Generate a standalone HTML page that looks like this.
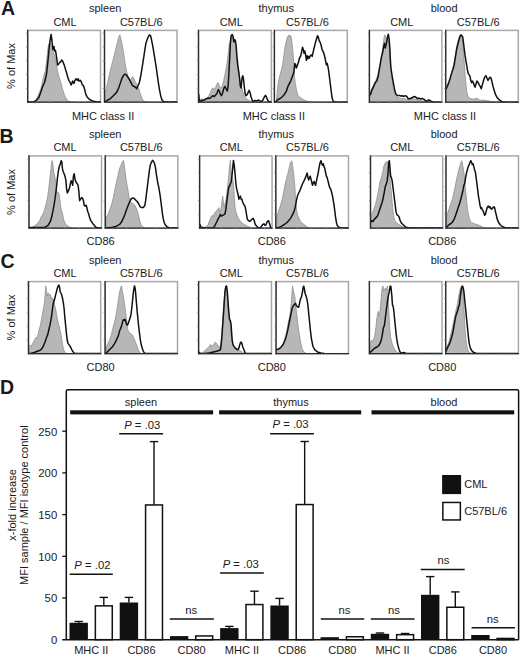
<!DOCTYPE html>
<html><head><meta charset="utf-8"><style>
html,body{margin:0;padding:0;background:#fff;}
svg{display:block;}
text{font-family:"Liberation Sans", sans-serif;fill:#1a1a1a;}
</style></head><body>
<svg width="520" height="655" viewBox="0 0 520 655">
<rect width="520" height="655" fill="#fff"/>
<text x="1.10" y="15.20" font-size="19.5" text-anchor="start" font-weight="bold" font-style="normal" >A</text>
<text x="105.20" y="12.30" font-size="11" text-anchor="middle" font-weight="normal" font-style="normal" >spleen</text>
<text x="65.00" y="25.50" font-size="11" text-anchor="middle" font-weight="normal" font-style="normal" >CML</text>
<text x="141.30" y="25.50" font-size="11" text-anchor="middle" font-weight="normal" font-style="normal" >C57BL/6</text>
<text x="103.10" y="120.00" font-size="11" text-anchor="middle" font-weight="normal" font-style="normal" >MHC class II</text>
<text x="276.20" y="12.30" font-size="11" text-anchor="middle" font-weight="normal" font-style="normal" >thymus</text>
<text x="231.30" y="25.50" font-size="11" text-anchor="middle" font-weight="normal" font-style="normal" >CML</text>
<text x="307.50" y="25.50" font-size="11" text-anchor="middle" font-weight="normal" font-style="normal" >C57BL/6</text>
<text x="273.80" y="120.00" font-size="11" text-anchor="middle" font-weight="normal" font-style="normal" >MHC class II</text>
<text x="444.10" y="12.30" font-size="11" text-anchor="middle" font-weight="normal" font-style="normal" >blood</text>
<text x="401.80" y="25.50" font-size="11" text-anchor="middle" font-weight="normal" font-style="normal" >CML</text>
<text x="478.20" y="25.50" font-size="11" text-anchor="middle" font-weight="normal" font-style="normal" >C57BL/6</text>
<text x="445.00" y="120.00" font-size="11" text-anchor="middle" font-weight="normal" font-style="normal" >MHC class II</text>
<text x="0" y="0" font-size="11" text-anchor="middle" transform="translate(15.3,66.0) rotate(-90)">% of Max</text>
<rect x="27.70" y="30.40" width="72.80" height="71.80" fill="#fff" stroke="#a8a8a8" stroke-width="1.5"/>
<clipPath id="c00"><rect x="27.70" y="28.40" width="72.80" height="73.80"/></clipPath>
<g clip-path="url(#c00)">
<path d="M33.46,102.20 L33.46,102.15 L35.77,100.31 L38.08,95.69 L39.62,91.85 L40.85,88.92 L42.69,80.31 L44.23,74.15 L45.46,70.46 L46.23,64.15 L47.00,57.23 L47.77,49.54 L48.54,44.92 L49.31,43.38 L50.38,43.38 L51.46,45.69 L52.69,51.08 L54.23,54.15 L55.46,58.77 L56.54,64.92 L57.62,71.85 L59.15,77.23 L61.15,83.38 L62.69,89.54 L64.23,94.15 L65.77,98.00 L68.08,101.08 L71.15,102.15 L71.15,102.20 Z" fill="#b7b7b7" stroke="#8f8f8f" stroke-width="0.8"/>
<path d="M27.77,102.00 L33.46,101.85 L34.69,101.54 L36.54,100.00 L38.54,98.00 L40.38,93.38 L42.38,87.23 L44.69,82.00 L46.54,74.00 L47.77,62.62 L48.54,54.92 L49.31,46.46 L50.08,40.31 L50.69,36.46 L51.15,34.46 L51.92,40.31 L52.38,44.92 L53.00,49.54 L53.92,46.46 L54.54,51.08 L55.46,50.31 L56.23,54.92 L57.00,60.31 L57.62,64.92 L58.54,64.15 L59.62,62.62 L60.69,61.85 L61.62,60.00 L62.69,61.08 L63.46,63.38 L64.23,64.92 L65.31,68.77 L66.54,72.62 L67.77,77.23 L68.85,80.31 L69.92,81.85 L71.15,84.92 L71.92,83.38 L72.69,81.08 L73.92,83.38 L75.00,80.31 L76.08,78.77 L77.31,80.31 L78.08,78.77 L79.15,81.08 L80.38,80.31 L81.62,82.62 L82.23,84.92 L83.46,85.69 L84.69,89.54 L85.77,94.15 L87.31,97.23 L89.62,99.54 L92.69,101.08 L95.77,101.85 L100.69,102.00" fill="none" stroke="#111" stroke-width="1.5" stroke-linejoin="round"/>
</g>
<line x1="27.70" y1="29.80" x2="27.70" y2="102.70" stroke="#2a2a2a" stroke-width="1.3"/>
<line x1="27.20" y1="102.20" x2="101.10" y2="102.20" stroke="#2a2a2a" stroke-width="1.3"/>
<line x1="26.10" y1="88.40" x2="27.70" y2="88.40" stroke="#777" stroke-width="0.8"/>
<line x1="26.10" y1="74.60" x2="27.70" y2="74.60" stroke="#777" stroke-width="0.8"/>
<line x1="26.10" y1="60.80" x2="27.70" y2="60.80" stroke="#777" stroke-width="0.8"/>
<line x1="26.10" y1="47.00" x2="27.70" y2="47.00" stroke="#777" stroke-width="0.8"/>
<line x1="26.10" y1="33.20" x2="27.70" y2="33.20" stroke="#777" stroke-width="0.8"/>
<line x1="34.80" y1="102.20" x2="34.80" y2="103.70" stroke="#aaa" stroke-width="0.7"/>
<line x1="49.30" y1="102.20" x2="49.30" y2="103.70" stroke="#aaa" stroke-width="0.7"/>
<line x1="63.80" y1="102.20" x2="63.80" y2="103.70" stroke="#aaa" stroke-width="0.7"/>
<line x1="78.30" y1="102.20" x2="78.30" y2="103.70" stroke="#aaa" stroke-width="0.7"/>
<line x1="92.80" y1="102.20" x2="92.80" y2="103.70" stroke="#aaa" stroke-width="0.7"/>
<rect x="104.50" y="30.40" width="72.50" height="71.80" fill="#fff" stroke="#a8a8a8" stroke-width="1.5"/>
<clipPath id="c01"><rect x="104.50" y="28.40" width="72.50" height="73.80"/></clipPath>
<g clip-path="url(#c01)">
<path d="M105.31,102.20 L105.31,92.62 L107.15,84.92 L109.46,74.15 L111.77,64.92 L114.08,55.69 L115.62,49.54 L117.15,43.38 L118.69,37.23 L119.77,34.92 L121.00,38.77 L122.23,44.92 L123.31,51.08 L124.38,58.77 L125.62,66.46 L126.85,72.62 L128.38,77.23 L129.92,80.31 L131.46,78.77 L132.54,76.46 L133.62,78.00 L134.85,81.08 L136.38,83.38 L137.92,86.46 L139.46,91.08 L141.00,95.69 L142.54,99.54 L144.08,101.54 L146.38,102.15 L146.38,102.20 Z" fill="#b7b7b7" stroke="#8f8f8f" stroke-width="0.8"/>
<path d="M104.85,101.85 L107.15,100.31 L110.23,98.77 L113.31,95.69 L116.38,92.62 L118.69,88.00 L120.23,83.38 L121.77,78.77 L123.31,75.69 L124.85,74.15 L126.38,74.92 L127.92,77.23 L129.46,79.54 L131.00,82.62 L132.54,85.69 L134.08,86.46 L135.62,87.23 L136.69,88.77 L137.92,85.69 L139.15,83.38 L140.23,78.77 L141.31,72.62 L142.54,64.92 L143.77,57.23 L144.85,49.54 L145.92,43.38 L147.15,39.54 L148.38,36.46 L149.46,34.92 L150.54,35.69 L151.46,39.54 L152.54,44.92 L153.62,51.08 L154.85,58.77 L156.08,66.46 L157.15,74.15 L158.23,81.85 L159.46,89.54 L160.69,95.69 L161.77,99.54 L163.31,101.54 L165.62,102.00 L176.69,102.00" fill="none" stroke="#111" stroke-width="1.5" stroke-linejoin="round"/>
</g>
<line x1="104.50" y1="29.80" x2="104.50" y2="102.70" stroke="#2a2a2a" stroke-width="1.3"/>
<line x1="104.00" y1="102.20" x2="177.60" y2="102.20" stroke="#2a2a2a" stroke-width="1.3"/>
<line x1="102.90" y1="88.40" x2="104.50" y2="88.40" stroke="#777" stroke-width="0.8"/>
<line x1="102.90" y1="74.60" x2="104.50" y2="74.60" stroke="#777" stroke-width="0.8"/>
<line x1="102.90" y1="60.80" x2="104.50" y2="60.80" stroke="#777" stroke-width="0.8"/>
<line x1="102.90" y1="47.00" x2="104.50" y2="47.00" stroke="#777" stroke-width="0.8"/>
<line x1="102.90" y1="33.20" x2="104.50" y2="33.20" stroke="#777" stroke-width="0.8"/>
<line x1="111.60" y1="102.20" x2="111.60" y2="103.70" stroke="#aaa" stroke-width="0.7"/>
<line x1="126.10" y1="102.20" x2="126.10" y2="103.70" stroke="#aaa" stroke-width="0.7"/>
<line x1="140.60" y1="102.20" x2="140.60" y2="103.70" stroke="#aaa" stroke-width="0.7"/>
<line x1="155.10" y1="102.20" x2="155.10" y2="103.70" stroke="#aaa" stroke-width="0.7"/>
<line x1="169.60" y1="102.20" x2="169.60" y2="103.70" stroke="#aaa" stroke-width="0.7"/>
<rect x="198.50" y="30.40" width="72.90" height="71.80" fill="#fff" stroke="#a8a8a8" stroke-width="1.5"/>
<clipPath id="c02"><rect x="198.50" y="28.40" width="72.90" height="73.80"/></clipPath>
<g clip-path="url(#c02)">
<path d="M198.85,102.20 L198.85,101.08 L201.15,98.77 L203.46,99.54 L205.77,98.77 L208.08,97.23 L210.38,92.62 L211.92,88.77 L213.46,88.00 L215.00,89.54 L216.54,84.92 L218.08,82.62 L219.31,85.69 L220.38,88.00 L221.92,86.46 L223.46,81.85 L225.00,74.15 L226.54,66.46 L227.62,58.77 L228.54,51.08 L229.15,44.92 L230.08,41.85 L231.15,35.69 L232.23,34.92 L233.15,38.77 L233.77,41.85 L234.69,40.31 L235.77,46.46 L236.54,55.69 L237.31,64.92 L238.08,69.54 L238.85,74.15 L239.92,80.31 L241.15,86.46 L242.69,91.08 L244.23,95.69 L246.54,98.77 L248.85,100.31 L251.15,101.54 L253.46,102.15 L253.46,102.20 Z" fill="#b7b7b7" stroke="#8f8f8f" stroke-width="0.8"/>
<path d="M198.69,94.15 L199.31,100.31 L200.38,101.54 L201.92,100.31 L203.46,100.31 L205.00,99.54 L206.54,98.77 L208.08,98.00 L209.62,98.46 L211.15,97.23 L212.69,95.69 L214.23,96.46 L215.77,94.92 L217.31,92.62 L218.38,89.54 L219.31,91.08 L220.38,94.15 L221.46,95.69 L222.69,92.62 L223.92,88.00 L225.00,86.46 L226.08,88.77 L227.31,91.08 L228.08,86.46 L228.85,74.15 L229.62,58.77 L230.38,43.38 L231.15,35.69 L232.23,34.46 L233.15,36.46 L233.77,41.85 L234.38,39.54 L235.31,40.31 L236.23,46.46 L236.85,55.69 L237.77,64.92 L238.85,72.62 L239.62,78.77 L240.38,86.46 L241.15,88.00 L241.92,78.77 L242.69,75.69 L243.46,78.77 L244.23,86.46 L245.00,92.62 L245.77,95.69 L247.00,94.92 L248.08,92.62 L249.15,90.31 L250.08,92.62 L251.15,97.23 L252.23,100.31 L253.46,101.54 L255.00,100.31 L256.54,101.08 L258.08,100.00 L259.62,100.62 L261.15,101.54 L262.69,100.31 L264.23,97.23 L265.46,95.38 L266.54,97.23 L267.62,100.31 L268.85,101.54 L271.15,101.85" fill="none" stroke="#111" stroke-width="1.5" stroke-linejoin="round"/>
</g>
<line x1="198.50" y1="29.80" x2="198.50" y2="102.70" stroke="#2a2a2a" stroke-width="1.3"/>
<line x1="198.00" y1="102.20" x2="272.00" y2="102.20" stroke="#2a2a2a" stroke-width="1.3"/>
<line x1="196.90" y1="88.40" x2="198.50" y2="88.40" stroke="#777" stroke-width="0.8"/>
<line x1="196.90" y1="74.60" x2="198.50" y2="74.60" stroke="#777" stroke-width="0.8"/>
<line x1="196.90" y1="60.80" x2="198.50" y2="60.80" stroke="#777" stroke-width="0.8"/>
<line x1="196.90" y1="47.00" x2="198.50" y2="47.00" stroke="#777" stroke-width="0.8"/>
<line x1="196.90" y1="33.20" x2="198.50" y2="33.20" stroke="#777" stroke-width="0.8"/>
<line x1="205.60" y1="102.20" x2="205.60" y2="103.70" stroke="#aaa" stroke-width="0.7"/>
<line x1="220.10" y1="102.20" x2="220.10" y2="103.70" stroke="#aaa" stroke-width="0.7"/>
<line x1="234.60" y1="102.20" x2="234.60" y2="103.70" stroke="#aaa" stroke-width="0.7"/>
<line x1="249.10" y1="102.20" x2="249.10" y2="103.70" stroke="#aaa" stroke-width="0.7"/>
<line x1="263.60" y1="102.20" x2="263.60" y2="103.70" stroke="#aaa" stroke-width="0.7"/>
<rect x="274.40" y="30.40" width="72.90" height="71.80" fill="#fff" stroke="#a8a8a8" stroke-width="1.5"/>
<clipPath id="c03"><rect x="274.40" y="28.40" width="72.90" height="73.80"/></clipPath>
<g clip-path="url(#c03)">
<path d="M276.38,102.20 L276.38,101.85 L277.15,92.62 L277.92,84.92 L279.00,78.77 L280.23,74.15 L281.46,69.54 L282.54,64.92 L283.62,57.23 L284.85,48.00 L286.08,41.85 L287.15,38.00 L288.23,35.69 L289.15,34.92 L289.77,37.23 L290.69,35.69 L291.46,38.77 L292.23,44.92 L293.00,52.62 L293.62,61.85 L294.08,71.08 L294.54,77.23 L295.31,83.38 L296.38,89.54 L297.46,94.15 L298.69,96.46 L301.00,98.00 L303.31,99.54 L306.38,101.08 L309.46,101.85 L312.54,102.15 L312.54,102.20 Z" fill="#b7b7b7" stroke="#8f8f8f" stroke-width="0.8"/>
<path d="M274.85,102.15 L276.38,101.08 L277.92,99.54 L280.23,98.46 L282.54,96.46 L284.54,94.15 L286.38,91.08 L287.92,86.46 L289.46,83.38 L291.00,80.31 L292.54,75.69 L293.77,72.62 L294.38,68.00 L294.85,63.38 L295.62,64.92 L296.38,68.00 L297.15,65.69 L298.38,62.62 L299.46,58.00 L300.54,56.46 L301.46,52.62 L302.54,47.23 L303.31,49.54 L304.08,53.38 L304.85,51.08 L305.62,54.92 L306.38,60.31 L307.15,55.69 L307.92,58.77 L308.69,56.46 L309.46,58.00 L310.23,55.69 L311.31,54.92 L312.23,56.46 L312.85,53.38 L313.77,49.54 L314.85,44.92 L315.62,41.85 L316.54,38.77 L317.46,35.69 L318.38,37.23 L319.00,40.31 L319.92,41.85 L321.00,44.92 L322.08,49.54 L323.31,51.85 L324.08,54.15 L324.85,57.23 L325.62,61.08 L326.38,64.92 L327.15,63.38 L327.92,66.46 L328.69,71.08 L329.46,77.23 L330.23,83.38 L331.00,89.54 L331.77,95.69 L332.54,99.54 L333.31,101.54 L335.62,102.15 L347.15,102.15" fill="none" stroke="#111" stroke-width="1.5" stroke-linejoin="round"/>
</g>
<line x1="274.40" y1="29.80" x2="274.40" y2="102.70" stroke="#2a2a2a" stroke-width="1.3"/>
<line x1="273.90" y1="102.20" x2="347.90" y2="102.20" stroke="#2a2a2a" stroke-width="1.3"/>
<line x1="272.80" y1="88.40" x2="274.40" y2="88.40" stroke="#777" stroke-width="0.8"/>
<line x1="272.80" y1="74.60" x2="274.40" y2="74.60" stroke="#777" stroke-width="0.8"/>
<line x1="272.80" y1="60.80" x2="274.40" y2="60.80" stroke="#777" stroke-width="0.8"/>
<line x1="272.80" y1="47.00" x2="274.40" y2="47.00" stroke="#777" stroke-width="0.8"/>
<line x1="272.80" y1="33.20" x2="274.40" y2="33.20" stroke="#777" stroke-width="0.8"/>
<line x1="281.50" y1="102.20" x2="281.50" y2="103.70" stroke="#aaa" stroke-width="0.7"/>
<line x1="296.00" y1="102.20" x2="296.00" y2="103.70" stroke="#aaa" stroke-width="0.7"/>
<line x1="310.50" y1="102.20" x2="310.50" y2="103.70" stroke="#aaa" stroke-width="0.7"/>
<line x1="325.00" y1="102.20" x2="325.00" y2="103.70" stroke="#aaa" stroke-width="0.7"/>
<line x1="339.50" y1="102.20" x2="339.50" y2="103.70" stroke="#aaa" stroke-width="0.7"/>
<rect x="369.40" y="30.40" width="72.50" height="71.80" fill="#fff" stroke="#a8a8a8" stroke-width="1.5"/>
<clipPath id="c04"><rect x="369.40" y="28.40" width="72.50" height="73.80"/></clipPath>
<g clip-path="url(#c04)">
<path d="M369.85,102.20 L369.85,92.62 L371.38,89.54 L372.92,86.46 L374.46,83.38 L376.00,80.31 L377.54,75.69 L379.08,69.54 L380.62,61.85 L382.15,52.62 L383.23,44.92 L384.15,37.23 L384.77,34.92 L385.69,36.46 L386.77,38.77 L387.54,37.23 L388.31,40.31 L389.08,46.46 L389.85,55.69 L390.62,66.46 L391.38,74.15 L392.15,80.31 L392.92,86.46 L393.69,91.08 L395.23,95.69 L396.77,97.23 L399.08,98.00 L401.38,98.46 L404.46,98.77 L407.54,99.54 L410.62,99.08 L413.69,98.77 L416.77,99.54 L419.85,100.31 L422.92,101.08 L427.54,101.54 L432.15,101.85 L436.77,102.15 L436.77,102.20 Z" fill="#b7b7b7" stroke="#8f8f8f" stroke-width="0.8"/>
<path d="M369.38,95.69 L370.62,94.15 L372.15,89.54 L373.69,86.46 L375.23,82.62 L376.77,81.08 L378.31,75.69 L379.54,68.00 L380.62,61.85 L381.69,55.69 L382.62,52.62 L383.69,46.46 L384.46,43.38 L385.23,48.00 L386.00,44.92 L386.77,41.85 L387.54,37.23 L388.31,34.15 L389.08,38.77 L389.85,48.00 L390.31,58.77 L390.92,68.00 L391.85,74.15 L392.92,80.31 L394.00,86.46 L394.92,91.08 L396.00,94.15 L397.54,95.69 L399.08,95.38 L400.62,96.00 L402.15,95.69 L403.69,96.46 L405.23,95.69 L406.77,96.46 L408.31,98.77 L409.85,98.77 L411.38,98.00 L412.92,97.23 L414.46,96.46 L416.00,97.23 L417.54,98.77 L419.08,98.00 L420.62,99.08 L422.15,98.46 L423.69,99.08 L425.23,100.31 L426.77,101.08 L428.31,100.00 L429.85,100.31 L431.38,101.54 L433.69,102.15 L441.69,102.15" fill="none" stroke="#111" stroke-width="1.5" stroke-linejoin="round"/>
</g>
<line x1="369.40" y1="29.80" x2="369.40" y2="102.70" stroke="#2a2a2a" stroke-width="1.3"/>
<line x1="368.90" y1="102.20" x2="442.50" y2="102.20" stroke="#2a2a2a" stroke-width="1.3"/>
<line x1="367.80" y1="88.40" x2="369.40" y2="88.40" stroke="#777" stroke-width="0.8"/>
<line x1="367.80" y1="74.60" x2="369.40" y2="74.60" stroke="#777" stroke-width="0.8"/>
<line x1="367.80" y1="60.80" x2="369.40" y2="60.80" stroke="#777" stroke-width="0.8"/>
<line x1="367.80" y1="47.00" x2="369.40" y2="47.00" stroke="#777" stroke-width="0.8"/>
<line x1="367.80" y1="33.20" x2="369.40" y2="33.20" stroke="#777" stroke-width="0.8"/>
<line x1="376.50" y1="102.20" x2="376.50" y2="103.70" stroke="#aaa" stroke-width="0.7"/>
<line x1="391.00" y1="102.20" x2="391.00" y2="103.70" stroke="#aaa" stroke-width="0.7"/>
<line x1="405.50" y1="102.20" x2="405.50" y2="103.70" stroke="#aaa" stroke-width="0.7"/>
<line x1="420.00" y1="102.20" x2="420.00" y2="103.70" stroke="#aaa" stroke-width="0.7"/>
<line x1="434.50" y1="102.20" x2="434.50" y2="103.70" stroke="#aaa" stroke-width="0.7"/>
<rect x="445.70" y="30.40" width="72.60" height="71.80" fill="#fff" stroke="#a8a8a8" stroke-width="1.5"/>
<clipPath id="c05"><rect x="445.70" y="28.40" width="72.60" height="73.80"/></clipPath>
<g clip-path="url(#c05)">
<path d="M446.15,102.20 L446.15,89.54 L447.69,86.46 L449.23,81.85 L450.77,75.69 L452.31,71.08 L453.85,64.92 L455.38,55.69 L456.62,46.46 L457.69,41.85 L458.77,38.77 L459.69,35.69 L460.77,34.92 L461.85,37.23 L462.77,43.38 L463.54,52.62 L464.31,63.38 L464.92,72.62 L465.54,80.31 L466.15,86.46 L466.92,92.62 L468.00,96.46 L470.00,98.46 L472.31,99.08 L474.62,98.77 L476.92,98.00 L478.46,99.54 L480.77,100.31 L483.08,100.00 L486.15,100.62 L489.23,101.08 L492.31,101.54 L495.38,101.85 L500.00,102.15 L500.00,102.20 Z" fill="#b7b7b7" stroke="#8f8f8f" stroke-width="0.8"/>
<path d="M445.85,89.54 L446.92,87.23 L448.46,83.38 L450.00,78.77 L451.54,73.38 L453.08,68.77 L454.15,64.92 L455.38,57.23 L456.62,49.54 L457.69,44.92 L458.46,41.85 L459.23,38.77 L460.00,36.46 L460.77,34.92 L461.85,35.69 L462.77,37.23 L463.38,41.85 L464.31,49.54 L465.08,55.69 L465.85,60.31 L466.62,64.92 L467.38,69.54 L468.15,73.38 L469.23,74.92 L470.00,76.46 L470.77,80.31 L471.54,82.62 L472.62,81.08 L473.85,84.15 L475.08,87.23 L476.15,83.38 L476.92,81.08 L478.15,82.62 L479.23,84.92 L480.31,86.46 L481.23,88.77 L482.31,84.92 L483.38,81.08 L484.62,77.23 L485.85,75.69 L486.92,78.00 L488.00,80.31 L488.92,78.77 L490.00,77.23 L491.08,78.00 L492.00,81.85 L493.08,86.46 L494.15,90.31 L495.38,94.15 L496.92,97.23 L498.46,99.08 L500.00,100.31 L501.54,101.54 L503.85,102.15 L518.15,102.15" fill="none" stroke="#111" stroke-width="1.5" stroke-linejoin="round"/>
</g>
<line x1="445.70" y1="29.80" x2="445.70" y2="102.70" stroke="#2a2a2a" stroke-width="1.3"/>
<line x1="445.20" y1="102.20" x2="518.90" y2="102.20" stroke="#2a2a2a" stroke-width="1.3"/>
<line x1="444.10" y1="88.40" x2="445.70" y2="88.40" stroke="#777" stroke-width="0.8"/>
<line x1="444.10" y1="74.60" x2="445.70" y2="74.60" stroke="#777" stroke-width="0.8"/>
<line x1="444.10" y1="60.80" x2="445.70" y2="60.80" stroke="#777" stroke-width="0.8"/>
<line x1="444.10" y1="47.00" x2="445.70" y2="47.00" stroke="#777" stroke-width="0.8"/>
<line x1="444.10" y1="33.20" x2="445.70" y2="33.20" stroke="#777" stroke-width="0.8"/>
<line x1="452.80" y1="102.20" x2="452.80" y2="103.70" stroke="#aaa" stroke-width="0.7"/>
<line x1="467.30" y1="102.20" x2="467.30" y2="103.70" stroke="#aaa" stroke-width="0.7"/>
<line x1="481.80" y1="102.20" x2="481.80" y2="103.70" stroke="#aaa" stroke-width="0.7"/>
<line x1="496.30" y1="102.20" x2="496.30" y2="103.70" stroke="#aaa" stroke-width="0.7"/>
<line x1="510.80" y1="102.20" x2="510.80" y2="103.70" stroke="#aaa" stroke-width="0.7"/>
<text x="-0.40" y="142.60" font-size="19.5" text-anchor="start" font-weight="bold" font-style="normal" >B</text>
<text x="105.20" y="137.60" font-size="11" text-anchor="middle" font-weight="normal" font-style="normal" >spleen</text>
<text x="65.00" y="151.10" font-size="11" text-anchor="middle" font-weight="normal" font-style="normal" >CML</text>
<text x="141.30" y="151.10" font-size="11" text-anchor="middle" font-weight="normal" font-style="normal" >C57BL/6</text>
<text x="100.60" y="245.30" font-size="11" text-anchor="middle" font-weight="normal" font-style="normal" >CD86</text>
<text x="276.20" y="137.60" font-size="11" text-anchor="middle" font-weight="normal" font-style="normal" >thymus</text>
<text x="231.30" y="151.10" font-size="11" text-anchor="middle" font-weight="normal" font-style="normal" >CML</text>
<text x="307.50" y="151.10" font-size="11" text-anchor="middle" font-weight="normal" font-style="normal" >C57BL/6</text>
<text x="271.80" y="245.30" font-size="11" text-anchor="middle" font-weight="normal" font-style="normal" >CD86</text>
<text x="444.10" y="137.60" font-size="11" text-anchor="middle" font-weight="normal" font-style="normal" >blood</text>
<text x="401.80" y="151.10" font-size="11" text-anchor="middle" font-weight="normal" font-style="normal" >CML</text>
<text x="478.20" y="151.10" font-size="11" text-anchor="middle" font-weight="normal" font-style="normal" >C57BL/6</text>
<text x="442.20" y="245.30" font-size="11" text-anchor="middle" font-weight="normal" font-style="normal" >CD86</text>
<text x="0" y="0" font-size="11" text-anchor="middle" transform="translate(15.3,192.0) rotate(-90)">% of Max</text>
<rect x="29.00" y="155.90" width="72.50" height="72.20" fill="#fff" stroke="#a8a8a8" stroke-width="1.5"/>
<clipPath id="c10"><rect x="29.00" y="153.90" width="72.50" height="74.20"/></clipPath>
<g clip-path="url(#c10)">
<path d="M31.15,228.10 L31.15,227.62 L34.23,226.08 L37.31,223.77 L39.62,220.69 L41.15,216.85 L42.69,214.54 L44.23,210.69 L45.77,205.31 L47.31,199.15 L48.38,191.46 L49.31,183.77 L50.08,176.08 L50.85,169.92 L51.46,163.77 L52.08,160.69 L52.69,162.23 L53.31,168.38 L53.92,173.00 L54.69,176.08 L55.46,180.69 L56.08,185.31 L56.54,189.92 L57.31,193.00 L58.08,192.23 L58.85,193.00 L59.62,197.62 L60.38,203.77 L61.15,209.92 L61.92,211.46 L62.69,214.54 L63.46,219.15 L65.00,223.00 L66.54,225.31 L68.85,226.85 L71.15,227.62 L71.15,228.10 Z" fill="#b7b7b7" stroke="#8f8f8f" stroke-width="0.8"/>
<path d="M28.85,227.62 L34.23,227.62 L40.38,227.62 L45.00,227.15 L48.08,225.31 L50.38,221.46 L51.92,216.08 L53.15,209.92 L54.23,203.77 L55.00,199.15 L55.77,193.00 L56.54,186.85 L57.31,179.15 L58.08,173.00 L58.85,168.38 L59.62,165.31 L60.38,163.77 L61.15,160.69 L61.92,162.23 L62.38,168.38 L63.15,171.46 L63.77,173.00 L64.69,175.31 L65.31,177.62 L65.92,180.69 L66.54,188.38 L67.31,193.00 L68.08,191.46 L68.85,189.92 L69.62,187.62 L70.38,183.77 L71.15,180.69 L71.92,182.23 L72.69,185.31 L73.46,176.08 L74.23,173.77 L75.00,179.15 L75.77,181.46 L76.54,183.00 L77.31,183.77 L78.08,185.31 L78.85,191.46 L79.62,200.69 L80.69,199.15 L81.62,197.62 L82.69,198.38 L83.46,200.69 L84.23,205.31 L85.31,206.08 L86.23,205.31 L86.85,207.62 L87.77,211.46 L88.85,214.54 L89.62,217.62 L90.85,220.69 L92.69,223.46 L94.23,225.31 L95.77,227.15 L98.08,227.92 L101.46,227.92" fill="none" stroke="#111" stroke-width="1.5" stroke-linejoin="round"/>
</g>
<line x1="29.00" y1="155.30" x2="29.00" y2="228.60" stroke="#2a2a2a" stroke-width="1.3"/>
<line x1="28.50" y1="228.10" x2="102.10" y2="228.10" stroke="#2a2a2a" stroke-width="1.3"/>
<line x1="27.40" y1="214.30" x2="29.00" y2="214.30" stroke="#777" stroke-width="0.8"/>
<line x1="27.40" y1="200.50" x2="29.00" y2="200.50" stroke="#777" stroke-width="0.8"/>
<line x1="27.40" y1="186.70" x2="29.00" y2="186.70" stroke="#777" stroke-width="0.8"/>
<line x1="27.40" y1="172.90" x2="29.00" y2="172.90" stroke="#777" stroke-width="0.8"/>
<line x1="27.40" y1="159.10" x2="29.00" y2="159.10" stroke="#777" stroke-width="0.8"/>
<line x1="36.10" y1="228.10" x2="36.10" y2="229.60" stroke="#aaa" stroke-width="0.7"/>
<line x1="50.60" y1="228.10" x2="50.60" y2="229.60" stroke="#aaa" stroke-width="0.7"/>
<line x1="65.10" y1="228.10" x2="65.10" y2="229.60" stroke="#aaa" stroke-width="0.7"/>
<line x1="79.60" y1="228.10" x2="79.60" y2="229.60" stroke="#aaa" stroke-width="0.7"/>
<line x1="94.10" y1="228.10" x2="94.10" y2="229.60" stroke="#aaa" stroke-width="0.7"/>
<rect x="105.30" y="155.90" width="72.55" height="72.20" fill="#fff" stroke="#a8a8a8" stroke-width="1.5"/>
<clipPath id="c11"><rect x="105.30" y="153.90" width="72.55" height="74.20"/></clipPath>
<g clip-path="url(#c11)">
<path d="M106.08,228.10 L106.08,219.15 L107.15,216.08 L108.69,213.00 L110.23,208.38 L111.77,203.77 L113.31,197.62 L114.85,189.92 L116.38,182.23 L117.92,176.08 L119.15,169.92 L120.23,166.85 L121.31,164.54 L122.54,161.46 L123.31,160.38 L124.08,163.77 L124.85,169.92 L125.62,176.08 L126.38,180.69 L127.15,185.31 L127.92,189.92 L128.69,194.54 L129.46,199.15 L130.54,202.23 L131.77,203.00 L133.31,203.77 L134.85,205.31 L136.38,208.38 L137.62,211.46 L138.69,216.08 L139.77,220.69 L141.00,224.54 L142.54,226.85 L144.85,227.92 L144.85,228.10 Z" fill="#b7b7b7" stroke="#8f8f8f" stroke-width="0.8"/>
<path d="M105.62,227.92 L110.23,227.62 L114.85,226.85 L117.92,225.31 L120.23,223.77 L121.77,221.46 L123.31,218.38 L124.85,214.54 L126.38,209.92 L127.92,206.08 L129.46,202.23 L131.00,199.15 L132.54,197.92 L134.08,198.38 L135.62,199.92 L137.15,201.46 L138.69,203.77 L140.23,206.85 L141.77,207.62 L143.31,207.62 L144.85,205.31 L145.62,200.69 L146.38,194.54 L147.15,188.38 L147.92,182.23 L148.69,176.08 L149.46,169.92 L150.23,165.31 L151.46,162.23 L152.54,160.38 L153.62,161.46 L154.85,164.54 L155.62,168.38 L156.38,174.54 L157.15,179.15 L157.92,183.77 L158.69,186.85 L159.46,191.46 L160.23,196.08 L161.00,202.23 L161.77,208.38 L162.54,214.54 L163.31,219.15 L164.38,223.00 L165.62,225.31 L167.15,226.85 L169.46,227.92 L177.92,227.92" fill="none" stroke="#111" stroke-width="1.5" stroke-linejoin="round"/>
</g>
<line x1="105.30" y1="155.30" x2="105.30" y2="228.60" stroke="#2a2a2a" stroke-width="1.3"/>
<line x1="104.80" y1="228.10" x2="178.45" y2="228.10" stroke="#2a2a2a" stroke-width="1.3"/>
<line x1="103.70" y1="214.30" x2="105.30" y2="214.30" stroke="#777" stroke-width="0.8"/>
<line x1="103.70" y1="200.50" x2="105.30" y2="200.50" stroke="#777" stroke-width="0.8"/>
<line x1="103.70" y1="186.70" x2="105.30" y2="186.70" stroke="#777" stroke-width="0.8"/>
<line x1="103.70" y1="172.90" x2="105.30" y2="172.90" stroke="#777" stroke-width="0.8"/>
<line x1="103.70" y1="159.10" x2="105.30" y2="159.10" stroke="#777" stroke-width="0.8"/>
<line x1="112.40" y1="228.10" x2="112.40" y2="229.60" stroke="#aaa" stroke-width="0.7"/>
<line x1="126.90" y1="228.10" x2="126.90" y2="229.60" stroke="#aaa" stroke-width="0.7"/>
<line x1="141.40" y1="228.10" x2="141.40" y2="229.60" stroke="#aaa" stroke-width="0.7"/>
<line x1="155.90" y1="228.10" x2="155.90" y2="229.60" stroke="#aaa" stroke-width="0.7"/>
<line x1="170.40" y1="228.10" x2="170.40" y2="229.60" stroke="#aaa" stroke-width="0.7"/>
<rect x="199.60" y="155.90" width="72.46" height="72.20" fill="#fff" stroke="#a8a8a8" stroke-width="1.5"/>
<clipPath id="c12"><rect x="199.60" y="153.90" width="72.46" height="74.20"/></clipPath>
<g clip-path="url(#c12)">
<path d="M204.23,228.10 L204.23,227.62 L206.54,226.54 L208.08,224.54 L209.62,220.69 L211.15,216.85 L212.23,215.31 L213.15,216.85 L214.23,213.77 L215.77,211.46 L217.31,209.92 L218.85,207.62 L219.92,212.23 L220.85,209.92 L221.92,202.23 L222.69,196.08 L223.46,203.77 L224.23,206.85 L225.00,203.77 L225.77,200.69 L226.54,196.08 L227.31,189.92 L228.08,182.23 L228.85,174.54 L229.62,166.85 L230.38,160.38 L231.15,171.46 L231.92,176.08 L232.69,179.15 L233.46,183.77 L234.23,196.08 L235.00,206.85 L235.77,211.46 L237.31,216.08 L238.85,219.15 L241.15,222.23 L244.23,224.54 L247.31,226.08 L250.38,227.62 L250.38,228.10 Z" fill="#b7b7b7" stroke="#8f8f8f" stroke-width="0.8"/>
<path d="M199.31,225.31 L199.92,224.54 L200.85,226.85 L202.69,227.62 L205.77,227.92 L210.38,227.92 L213.46,227.92 L215.00,225.31 L216.54,222.23 L218.08,219.15 L219.31,216.85 L220.38,214.54 L221.46,216.08 L222.69,215.31 L223.92,214.54 L225.00,213.77 L225.77,209.92 L226.54,203.77 L227.31,197.62 L228.08,191.46 L228.85,186.85 L229.62,186.08 L230.38,183.77 L231.15,182.23 L231.92,176.08 L232.69,168.38 L233.46,160.38 L234.23,165.31 L235.00,173.00 L235.77,182.23 L236.54,188.38 L237.31,191.46 L238.08,194.54 L238.85,199.15 L239.62,197.62 L240.38,196.08 L241.15,199.15 L241.92,199.15 L242.69,202.23 L243.46,203.77 L244.23,205.31 L245.00,206.08 L245.77,209.92 L246.54,214.54 L247.31,219.15 L248.54,220.69 L249.62,221.46 L250.69,220.69 L251.92,219.15 L253.15,218.38 L254.23,220.69 L255.31,224.54 L256.54,226.08 L258.08,227.62 L259.62,227.92 L261.15,226.85 L262.69,224.54 L263.92,223.77 L265.00,225.31 L266.08,224.54 L267.31,221.46 L268.54,220.69 L269.62,223.77 L270.38,226.85 L271.46,227.92" fill="none" stroke="#111" stroke-width="1.5" stroke-linejoin="round"/>
</g>
<line x1="199.60" y1="155.30" x2="199.60" y2="228.60" stroke="#2a2a2a" stroke-width="1.3"/>
<line x1="199.10" y1="228.10" x2="272.66" y2="228.10" stroke="#2a2a2a" stroke-width="1.3"/>
<line x1="198.00" y1="214.30" x2="199.60" y2="214.30" stroke="#777" stroke-width="0.8"/>
<line x1="198.00" y1="200.50" x2="199.60" y2="200.50" stroke="#777" stroke-width="0.8"/>
<line x1="198.00" y1="186.70" x2="199.60" y2="186.70" stroke="#777" stroke-width="0.8"/>
<line x1="198.00" y1="172.90" x2="199.60" y2="172.90" stroke="#777" stroke-width="0.8"/>
<line x1="198.00" y1="159.10" x2="199.60" y2="159.10" stroke="#777" stroke-width="0.8"/>
<line x1="206.70" y1="228.10" x2="206.70" y2="229.60" stroke="#aaa" stroke-width="0.7"/>
<line x1="221.20" y1="228.10" x2="221.20" y2="229.60" stroke="#aaa" stroke-width="0.7"/>
<line x1="235.70" y1="228.10" x2="235.70" y2="229.60" stroke="#aaa" stroke-width="0.7"/>
<line x1="250.20" y1="228.10" x2="250.20" y2="229.60" stroke="#aaa" stroke-width="0.7"/>
<line x1="264.70" y1="228.10" x2="264.70" y2="229.60" stroke="#aaa" stroke-width="0.7"/>
<rect x="275.80" y="155.90" width="72.65" height="72.20" fill="#fff" stroke="#a8a8a8" stroke-width="1.5"/>
<clipPath id="c13"><rect x="275.80" y="153.90" width="72.65" height="74.20"/></clipPath>
<g clip-path="url(#c13)">
<path d="M276.85,228.10 L276.85,217.62 L277.92,213.00 L279.46,208.38 L281.00,203.77 L282.54,197.62 L284.08,189.92 L285.31,183.00 L286.38,179.15 L287.62,174.54 L288.69,169.92 L289.77,165.31 L290.69,162.23 L291.77,160.69 L292.54,165.31 L293.31,171.46 L294.08,177.62 L294.85,186.85 L295.31,196.08 L295.92,203.77 L296.54,209.92 L297.46,214.54 L298.69,217.62 L300.23,220.69 L301.77,223.00 L304.08,224.54 L306.38,226.54 L309.46,227.92 L309.46,228.10 Z" fill="#b7b7b7" stroke="#8f8f8f" stroke-width="0.8"/>
<path d="M276.08,227.92 L278.69,227.62 L281.77,226.08 L284.08,224.54 L286.38,223.00 L288.69,220.69 L291.00,217.62 L292.54,214.54 L294.08,211.46 L295.31,206.85 L296.38,200.69 L297.46,196.08 L298.69,193.00 L299.92,190.69 L301.00,187.62 L302.54,183.77 L304.08,180.69 L305.15,178.38 L306.08,176.08 L307.15,173.00 L307.92,177.62 L308.69,179.92 L309.46,177.62 L310.23,176.08 L311.00,179.15 L311.77,182.23 L312.54,185.31 L313.31,183.00 L314.08,181.46 L314.85,183.77 L315.62,185.31 L316.38,181.46 L317.15,177.62 L317.92,174.54 L318.69,169.92 L319.46,165.31 L320.23,162.23 L321.00,160.69 L321.77,163.77 L322.54,165.31 L323.31,163.77 L324.08,166.85 L324.85,168.38 L325.62,173.00 L326.38,176.08 L327.15,177.62 L327.92,180.69 L328.69,183.77 L329.46,186.85 L330.23,188.38 L331.00,189.92 L331.77,193.00 L332.54,196.08 L333.31,200.69 L334.08,205.31 L334.85,211.46 L335.62,217.62 L336.38,222.23 L337.15,225.31 L338.69,227.15 L341.77,227.92 L347.92,227.92" fill="none" stroke="#111" stroke-width="1.5" stroke-linejoin="round"/>
</g>
<line x1="275.80" y1="155.30" x2="275.80" y2="228.60" stroke="#2a2a2a" stroke-width="1.3"/>
<line x1="275.30" y1="228.10" x2="349.05" y2="228.10" stroke="#2a2a2a" stroke-width="1.3"/>
<line x1="274.20" y1="214.30" x2="275.80" y2="214.30" stroke="#777" stroke-width="0.8"/>
<line x1="274.20" y1="200.50" x2="275.80" y2="200.50" stroke="#777" stroke-width="0.8"/>
<line x1="274.20" y1="186.70" x2="275.80" y2="186.70" stroke="#777" stroke-width="0.8"/>
<line x1="274.20" y1="172.90" x2="275.80" y2="172.90" stroke="#777" stroke-width="0.8"/>
<line x1="274.20" y1="159.10" x2="275.80" y2="159.10" stroke="#777" stroke-width="0.8"/>
<line x1="282.90" y1="228.10" x2="282.90" y2="229.60" stroke="#aaa" stroke-width="0.7"/>
<line x1="297.40" y1="228.10" x2="297.40" y2="229.60" stroke="#aaa" stroke-width="0.7"/>
<line x1="311.90" y1="228.10" x2="311.90" y2="229.60" stroke="#aaa" stroke-width="0.7"/>
<line x1="326.40" y1="228.10" x2="326.40" y2="229.60" stroke="#aaa" stroke-width="0.7"/>
<line x1="340.90" y1="228.10" x2="340.90" y2="229.60" stroke="#aaa" stroke-width="0.7"/>
<rect x="370.50" y="155.90" width="72.20" height="72.20" fill="#fff" stroke="#a8a8a8" stroke-width="1.5"/>
<clipPath id="c14"><rect x="370.50" y="153.90" width="72.20" height="74.20"/></clipPath>
<g clip-path="url(#c14)">
<path d="M371.08,228.10 L371.08,214.54 L372.15,213.00 L373.69,209.92 L375.23,205.31 L376.77,199.15 L378.31,191.46 L379.85,182.23 L381.38,177.62 L382.62,173.00 L383.69,166.85 L384.77,163.77 L385.69,162.23 L386.77,161.46 L387.54,163.77 L388.31,160.69 L389.08,166.85 L389.85,176.08 L390.62,183.77 L391.38,193.00 L392.15,202.23 L392.92,209.92 L393.69,216.08 L394.92,220.69 L396.77,223.00 L399.08,224.54 L401.38,226.08 L404.46,227.62 L407.54,227.92 L407.54,228.10 Z" fill="#b7b7b7" stroke="#8f8f8f" stroke-width="0.8"/>
<path d="M370.62,222.23 L371.85,220.69 L372.92,221.46 L374.46,219.15 L376.00,217.62 L377.54,216.08 L379.08,211.46 L380.62,206.85 L382.15,202.23 L383.23,197.62 L384.15,193.00 L385.23,186.85 L386.31,183.77 L387.23,180.69 L388.00,173.00 L388.77,162.23 L389.38,160.69 L390.00,168.38 L390.62,176.08 L391.38,177.62 L392.15,180.69 L392.92,186.85 L393.69,193.00 L394.46,199.15 L395.23,205.31 L396.00,211.46 L396.77,214.54 L398.00,215.31 L399.08,216.85 L400.15,220.69 L401.38,223.00 L402.92,224.54 L404.46,226.08 L406.00,227.15 L409.08,227.92 L442.46,227.92" fill="none" stroke="#111" stroke-width="1.5" stroke-linejoin="round"/>
</g>
<line x1="370.50" y1="155.30" x2="370.50" y2="228.60" stroke="#2a2a2a" stroke-width="1.3"/>
<line x1="370.00" y1="228.10" x2="443.30" y2="228.10" stroke="#2a2a2a" stroke-width="1.3"/>
<line x1="368.90" y1="214.30" x2="370.50" y2="214.30" stroke="#777" stroke-width="0.8"/>
<line x1="368.90" y1="200.50" x2="370.50" y2="200.50" stroke="#777" stroke-width="0.8"/>
<line x1="368.90" y1="186.70" x2="370.50" y2="186.70" stroke="#777" stroke-width="0.8"/>
<line x1="368.90" y1="172.90" x2="370.50" y2="172.90" stroke="#777" stroke-width="0.8"/>
<line x1="368.90" y1="159.10" x2="370.50" y2="159.10" stroke="#777" stroke-width="0.8"/>
<line x1="377.60" y1="228.10" x2="377.60" y2="229.60" stroke="#aaa" stroke-width="0.7"/>
<line x1="392.10" y1="228.10" x2="392.10" y2="229.60" stroke="#aaa" stroke-width="0.7"/>
<line x1="406.60" y1="228.10" x2="406.60" y2="229.60" stroke="#aaa" stroke-width="0.7"/>
<line x1="421.10" y1="228.10" x2="421.10" y2="229.60" stroke="#aaa" stroke-width="0.7"/>
<line x1="435.60" y1="228.10" x2="435.60" y2="229.60" stroke="#aaa" stroke-width="0.7"/>
<rect x="446.00" y="155.90" width="72.50" height="72.20" fill="#fff" stroke="#a8a8a8" stroke-width="1.5"/>
<clipPath id="c15"><rect x="446.00" y="153.90" width="72.50" height="74.20"/></clipPath>
<g clip-path="url(#c15)">
<path d="M446.62,228.10 L446.62,216.08 L447.69,213.00 L449.23,208.38 L450.77,203.77 L452.31,199.15 L453.85,193.00 L455.38,185.31 L456.62,179.15 L457.69,174.54 L458.77,169.92 L460.00,165.31 L461.08,162.23 L461.85,160.69 L462.77,165.31 L463.54,169.92 L464.31,176.08 L465.08,185.31 L465.85,193.00 L466.62,200.69 L467.38,208.38 L468.46,214.54 L469.54,219.15 L470.77,221.46 L472.31,223.00 L474.62,223.77 L476.92,224.54 L479.23,225.31 L481.54,226.54 L484.62,227.92 L484.62,228.10 Z" fill="#b7b7b7" stroke="#8f8f8f" stroke-width="0.8"/>
<path d="M446.15,227.92 L447.69,226.08 L449.23,224.54 L450.77,223.77 L452.31,222.23 L453.85,219.92 L455.38,216.08 L456.92,211.46 L458.46,206.85 L460.00,202.23 L461.23,197.62 L462.31,193.00 L463.08,189.92 L463.85,185.31 L464.62,183.77 L465.38,179.15 L466.15,174.54 L466.92,171.46 L467.69,168.38 L468.46,166.08 L469.23,164.54 L470.00,162.23 L470.77,160.69 L471.54,162.23 L472.31,164.54 L473.08,163.77 L473.85,166.85 L474.62,169.92 L475.38,172.23 L476.15,177.62 L476.92,183.77 L477.69,189.92 L478.46,196.08 L479.23,200.69 L480.00,205.31 L480.77,208.38 L481.54,207.62 L482.31,209.92 L483.08,210.69 L483.85,213.00 L484.62,215.31 L485.38,214.54 L486.15,211.46 L486.92,208.38 L487.69,206.85 L488.46,206.08 L489.23,207.62 L490.00,206.85 L490.77,208.38 L491.54,209.15 L492.31,208.38 L493.08,207.62 L493.85,206.85 L494.62,207.62 L495.38,211.46 L496.15,214.54 L497.23,219.15 L498.46,222.23 L500.00,224.54 L501.54,226.08 L503.85,227.15 L506.15,227.92 L518.15,227.92" fill="none" stroke="#111" stroke-width="1.5" stroke-linejoin="round"/>
</g>
<line x1="446.00" y1="155.30" x2="446.00" y2="228.60" stroke="#2a2a2a" stroke-width="1.3"/>
<line x1="445.50" y1="228.10" x2="519.10" y2="228.10" stroke="#2a2a2a" stroke-width="1.3"/>
<line x1="444.40" y1="214.30" x2="446.00" y2="214.30" stroke="#777" stroke-width="0.8"/>
<line x1="444.40" y1="200.50" x2="446.00" y2="200.50" stroke="#777" stroke-width="0.8"/>
<line x1="444.40" y1="186.70" x2="446.00" y2="186.70" stroke="#777" stroke-width="0.8"/>
<line x1="444.40" y1="172.90" x2="446.00" y2="172.90" stroke="#777" stroke-width="0.8"/>
<line x1="444.40" y1="159.10" x2="446.00" y2="159.10" stroke="#777" stroke-width="0.8"/>
<line x1="453.10" y1="228.10" x2="453.10" y2="229.60" stroke="#aaa" stroke-width="0.7"/>
<line x1="467.60" y1="228.10" x2="467.60" y2="229.60" stroke="#aaa" stroke-width="0.7"/>
<line x1="482.10" y1="228.10" x2="482.10" y2="229.60" stroke="#aaa" stroke-width="0.7"/>
<line x1="496.60" y1="228.10" x2="496.60" y2="229.60" stroke="#aaa" stroke-width="0.7"/>
<line x1="511.10" y1="228.10" x2="511.10" y2="229.60" stroke="#aaa" stroke-width="0.7"/>
<text x="0.60" y="268.20" font-size="19.5" text-anchor="start" font-weight="bold" font-style="normal" >C</text>
<text x="105.20" y="264.00" font-size="11" text-anchor="middle" font-weight="normal" font-style="normal" >spleen</text>
<text x="65.00" y="276.80" font-size="11" text-anchor="middle" font-weight="normal" font-style="normal" >CML</text>
<text x="141.30" y="276.80" font-size="11" text-anchor="middle" font-weight="normal" font-style="normal" >C57BL/6</text>
<text x="100.60" y="370.90" font-size="11" text-anchor="middle" font-weight="normal" font-style="normal" >CD80</text>
<text x="276.20" y="264.00" font-size="11" text-anchor="middle" font-weight="normal" font-style="normal" >thymus</text>
<text x="231.30" y="276.80" font-size="11" text-anchor="middle" font-weight="normal" font-style="normal" >CML</text>
<text x="307.50" y="276.80" font-size="11" text-anchor="middle" font-weight="normal" font-style="normal" >C57BL/6</text>
<text x="271.80" y="370.90" font-size="11" text-anchor="middle" font-weight="normal" font-style="normal" >CD80</text>
<text x="444.10" y="264.00" font-size="11" text-anchor="middle" font-weight="normal" font-style="normal" >blood</text>
<text x="401.80" y="276.80" font-size="11" text-anchor="middle" font-weight="normal" font-style="normal" >CML</text>
<text x="478.20" y="276.80" font-size="11" text-anchor="middle" font-weight="normal" font-style="normal" >C57BL/6</text>
<text x="442.20" y="370.90" font-size="11" text-anchor="middle" font-weight="normal" font-style="normal" >CD80</text>
<text x="0" y="0" font-size="11" text-anchor="middle" transform="translate(15.3,317.5) rotate(-90)">% of Max</text>
<rect x="28.50" y="281.60" width="72.20" height="72.10" fill="#fff" stroke="#a8a8a8" stroke-width="1.5"/>
<clipPath id="c20"><rect x="28.50" y="279.60" width="72.20" height="74.10"/></clipPath>
<g clip-path="url(#c20)">
<path d="M28.85,353.70 L28.85,346.69 L29.92,345.15 L31.15,346.69 L32.38,343.62 L33.46,342.08 L34.54,339.77 L35.77,337.46 L37.00,338.23 L38.08,334.38 L39.15,329.77 L40.38,325.15 L41.62,319.00 L42.69,312.85 L43.77,306.69 L44.69,300.54 L45.31,292.85 L45.77,285.92 L46.54,291.31 L47.31,295.92 L48.08,292.85 L48.85,294.38 L49.62,295.92 L50.38,294.38 L51.15,299.00 L51.92,297.46 L52.69,300.54 L53.46,299.00 L54.23,302.08 L55.00,306.69 L55.77,309.77 L56.54,314.38 L57.31,319.00 L58.08,322.08 L58.85,325.15 L59.62,328.23 L60.38,331.31 L61.15,335.92 L61.92,340.54 L62.69,345.15 L63.46,349.00 L64.69,352.08 L66.54,353.46 L66.54,353.70 Z" fill="#b7b7b7" stroke="#8f8f8f" stroke-width="0.8"/>
<path d="M28.38,353.46 L31.15,353.15 L34.23,352.54 L37.31,351.31 L39.62,350.54 L41.62,349.00 L43.46,345.92 L45.00,342.08 L46.54,337.46 L47.77,334.38 L48.85,329.77 L49.92,325.15 L50.85,320.54 L51.62,315.92 L52.38,309.77 L53.00,305.15 L53.62,302.08 L54.23,300.54 L55.00,297.46 L55.77,294.38 L56.54,291.31 L57.31,288.23 L58.08,285.92 L58.85,285.15 L59.62,287.46 L60.08,291.31 L60.69,292.85 L61.31,293.62 L61.92,295.92 L62.69,299.00 L63.46,303.62 L64.23,309.77 L64.69,315.92 L65.31,322.08 L65.92,328.23 L66.54,334.38 L67.31,340.54 L68.08,343.62 L69.31,345.15 L70.38,346.69 L71.46,349.00 L72.69,351.31 L73.92,352.85 L75.00,353.46 L100.69,353.46" fill="none" stroke="#111" stroke-width="1.5" stroke-linejoin="round"/>
</g>
<line x1="28.50" y1="281.00" x2="28.50" y2="354.20" stroke="#2a2a2a" stroke-width="1.3"/>
<line x1="28.00" y1="353.70" x2="101.30" y2="353.70" stroke="#2a2a2a" stroke-width="1.3"/>
<line x1="26.90" y1="339.90" x2="28.50" y2="339.90" stroke="#777" stroke-width="0.8"/>
<line x1="26.90" y1="326.10" x2="28.50" y2="326.10" stroke="#777" stroke-width="0.8"/>
<line x1="26.90" y1="312.30" x2="28.50" y2="312.30" stroke="#777" stroke-width="0.8"/>
<line x1="26.90" y1="298.50" x2="28.50" y2="298.50" stroke="#777" stroke-width="0.8"/>
<line x1="26.90" y1="284.70" x2="28.50" y2="284.70" stroke="#777" stroke-width="0.8"/>
<line x1="35.60" y1="353.70" x2="35.60" y2="355.20" stroke="#aaa" stroke-width="0.7"/>
<line x1="50.10" y1="353.70" x2="50.10" y2="355.20" stroke="#aaa" stroke-width="0.7"/>
<line x1="64.60" y1="353.70" x2="64.60" y2="355.20" stroke="#aaa" stroke-width="0.7"/>
<line x1="79.10" y1="353.70" x2="79.10" y2="355.20" stroke="#aaa" stroke-width="0.7"/>
<line x1="93.60" y1="353.70" x2="93.60" y2="355.20" stroke="#aaa" stroke-width="0.7"/>
<rect x="105.10" y="281.60" width="72.40" height="72.10" fill="#fff" stroke="#a8a8a8" stroke-width="1.5"/>
<clipPath id="c21"><rect x="105.10" y="279.60" width="72.40" height="74.10"/></clipPath>
<g clip-path="url(#c21)">
<path d="M106.38,353.70 L106.38,346.69 L107.92,343.62 L109.46,340.54 L111.00,335.92 L112.54,329.77 L114.08,323.62 L115.62,317.46 L116.69,311.31 L117.62,305.15 L118.69,297.46 L119.77,291.31 L120.69,287.46 L121.46,285.92 L122.23,289.77 L123.00,294.38 L123.77,299.00 L124.54,303.62 L125.31,309.77 L126.08,315.92 L126.85,322.08 L127.46,328.23 L128.38,331.31 L129.46,332.85 L131.00,333.62 L132.54,335.15 L133.62,337.46 L134.85,340.54 L136.08,343.62 L137.15,346.69 L138.23,349.46 L139.46,352.08 L141.00,353.46 L141.00,353.70 Z" fill="#b7b7b7" stroke="#8f8f8f" stroke-width="0.8"/>
<path d="M105.92,353.46 L107.92,351.31 L110.23,349.00 L112.54,346.69 L114.54,343.62 L116.08,340.54 L117.62,337.46 L118.69,334.38 L119.46,331.31 L120.69,328.23 L121.77,325.15 L122.54,322.08 L123.31,319.77 L124.08,320.54 L124.85,319.31 L125.62,320.54 L126.38,323.62 L127.15,325.15 L127.92,324.38 L128.69,322.08 L129.46,319.77 L130.23,317.46 L131.00,314.38 L131.77,308.23 L132.54,300.54 L133.31,292.85 L134.08,287.46 L134.54,285.92 L135.15,288.23 L135.62,292.85 L136.38,302.08 L137.15,311.31 L137.92,319.00 L138.69,326.69 L139.46,332.85 L140.23,339.00 L141.00,343.62 L142.23,348.23 L143.31,351.31 L144.38,352.85 L145.62,353.46 L177.15,353.46" fill="none" stroke="#111" stroke-width="1.5" stroke-linejoin="round"/>
</g>
<line x1="105.10" y1="281.00" x2="105.10" y2="354.20" stroke="#2a2a2a" stroke-width="1.3"/>
<line x1="104.60" y1="353.70" x2="178.10" y2="353.70" stroke="#2a2a2a" stroke-width="1.3"/>
<line x1="103.50" y1="339.90" x2="105.10" y2="339.90" stroke="#777" stroke-width="0.8"/>
<line x1="103.50" y1="326.10" x2="105.10" y2="326.10" stroke="#777" stroke-width="0.8"/>
<line x1="103.50" y1="312.30" x2="105.10" y2="312.30" stroke="#777" stroke-width="0.8"/>
<line x1="103.50" y1="298.50" x2="105.10" y2="298.50" stroke="#777" stroke-width="0.8"/>
<line x1="103.50" y1="284.70" x2="105.10" y2="284.70" stroke="#777" stroke-width="0.8"/>
<line x1="112.20" y1="353.70" x2="112.20" y2="355.20" stroke="#aaa" stroke-width="0.7"/>
<line x1="126.70" y1="353.70" x2="126.70" y2="355.20" stroke="#aaa" stroke-width="0.7"/>
<line x1="141.20" y1="353.70" x2="141.20" y2="355.20" stroke="#aaa" stroke-width="0.7"/>
<line x1="155.70" y1="353.70" x2="155.70" y2="355.20" stroke="#aaa" stroke-width="0.7"/>
<line x1="170.20" y1="353.70" x2="170.20" y2="355.20" stroke="#aaa" stroke-width="0.7"/>
<rect x="198.60" y="281.60" width="72.86" height="72.10" fill="#fff" stroke="#a8a8a8" stroke-width="1.5"/>
<clipPath id="c22"><rect x="198.60" y="279.60" width="72.86" height="74.10"/></clipPath>
<g clip-path="url(#c22)">
<path d="M201.92,353.70 L201.92,353.46 L203.46,352.08 L205.00,350.54 L206.54,349.00 L208.08,347.46 L209.62,345.92 L210.69,344.38 L211.92,346.69 L213.15,345.15 L214.23,343.62 L215.31,342.08 L216.23,342.85 L217.31,344.38 L218.38,345.92 L219.62,346.69 L220.85,343.62 L221.92,332.85 L222.69,322.08 L223.46,309.77 L224.23,299.00 L225.00,291.31 L225.77,286.69 L226.54,288.23 L227.31,297.46 L228.08,309.77 L228.85,319.00 L229.62,322.08 L230.38,326.69 L231.15,334.38 L231.92,340.54 L232.69,343.62 L233.46,345.15 L234.23,346.69 L235.31,348.23 L236.54,349.00 L238.08,350.08 L239.62,350.54 L241.15,351.31 L242.69,352.54 L244.23,353.46 L244.23,353.70 Z" fill="#b7b7b7" stroke="#8f8f8f" stroke-width="0.8"/>
<path d="M198.85,352.08 L199.62,352.85 L201.15,353.46 L204.23,353.46 L207.31,353.15 L210.38,352.85 L213.46,352.08 L216.54,351.31 L218.85,350.54 L220.38,349.77 L221.15,345.15 L221.92,335.92 L222.69,325.15 L223.46,314.38 L224.23,302.08 L225.00,291.31 L225.77,286.69 L226.54,285.92 L227.31,291.31 L228.08,302.08 L228.85,312.85 L229.62,319.77 L230.38,320.54 L231.15,325.15 L231.62,332.85 L232.23,340.54 L233.15,345.15 L234.23,346.69 L235.31,348.23 L236.54,349.00 L237.77,349.77 L238.85,348.23 L239.62,345.15 L240.38,342.85 L241.15,342.08 L241.92,343.62 L242.69,346.69 L243.92,349.77 L245.00,352.54 L245.77,353.46 L271.15,353.46" fill="none" stroke="#111" stroke-width="1.5" stroke-linejoin="round"/>
</g>
<line x1="198.60" y1="281.00" x2="198.60" y2="354.20" stroke="#2a2a2a" stroke-width="1.3"/>
<line x1="198.10" y1="353.70" x2="272.06" y2="353.70" stroke="#2a2a2a" stroke-width="1.3"/>
<line x1="197.00" y1="339.90" x2="198.60" y2="339.90" stroke="#777" stroke-width="0.8"/>
<line x1="197.00" y1="326.10" x2="198.60" y2="326.10" stroke="#777" stroke-width="0.8"/>
<line x1="197.00" y1="312.30" x2="198.60" y2="312.30" stroke="#777" stroke-width="0.8"/>
<line x1="197.00" y1="298.50" x2="198.60" y2="298.50" stroke="#777" stroke-width="0.8"/>
<line x1="197.00" y1="284.70" x2="198.60" y2="284.70" stroke="#777" stroke-width="0.8"/>
<line x1="205.70" y1="353.70" x2="205.70" y2="355.20" stroke="#aaa" stroke-width="0.7"/>
<line x1="220.20" y1="353.70" x2="220.20" y2="355.20" stroke="#aaa" stroke-width="0.7"/>
<line x1="234.70" y1="353.70" x2="234.70" y2="355.20" stroke="#aaa" stroke-width="0.7"/>
<line x1="249.20" y1="353.70" x2="249.20" y2="355.20" stroke="#aaa" stroke-width="0.7"/>
<line x1="263.70" y1="353.70" x2="263.70" y2="355.20" stroke="#aaa" stroke-width="0.7"/>
<rect x="276.07" y="281.60" width="72.38" height="72.10" fill="#fff" stroke="#a8a8a8" stroke-width="1.5"/>
<clipPath id="c23"><rect x="276.07" y="279.60" width="72.38" height="74.10"/></clipPath>
<g clip-path="url(#c23)">
<path d="M276.52,353.70 L276.52,350.22 L279.72,348.51 L283.15,343.93 L285.44,337.06 L287.16,329.05 L288.30,322.19 L289.45,317.61 L290.59,309.60 L291.39,301.59 L291.96,292.44 L292.54,286.15 L293.22,290.15 L294.02,293.59 L294.82,297.02 L295.51,303.88 L296.31,310.75 L297.11,317.61 L298.03,325.62 L299.17,333.63 L300.54,341.64 L302.03,348.51 L303.75,351.94 L306.04,353.31 L306.04,353.70 Z" fill="#b7b7b7" stroke="#8f8f8f" stroke-width="0.8"/>
<path d="M276.06,349.65 L278.58,349.08 L280.86,347.36 L283.15,344.50 L284.87,340.50 L286.36,335.92 L287.73,330.20 L288.87,324.48 L290.02,318.76 L291.16,313.04 L292.08,308.46 L292.88,306.74 L293.68,305.03 L294.59,304.46 L295.51,303.31 L296.31,305.60 L297.46,306.74 L298.60,307.32 L299.40,303.88 L300.32,299.31 L301.46,297.02 L302.38,292.44 L303.18,287.29 L303.75,286.15 L304.43,289.01 L305.12,293.59 L306.04,295.87 L306.95,299.31 L307.75,303.88 L308.55,311.89 L309.47,321.05 L310.38,330.20 L311.53,339.35 L312.90,346.22 L314.62,349.65 L317.48,351.94 L320.91,353.08 L324.00,353.31" fill="none" stroke="#111" stroke-width="1.5" stroke-linejoin="round"/>
</g>
<line x1="276.07" y1="281.00" x2="276.07" y2="354.20" stroke="#2a2a2a" stroke-width="1.3"/>
<line x1="275.57" y1="353.70" x2="349.05" y2="353.70" stroke="#2a2a2a" stroke-width="1.3"/>
<line x1="274.47" y1="339.90" x2="276.07" y2="339.90" stroke="#777" stroke-width="0.8"/>
<line x1="274.47" y1="326.10" x2="276.07" y2="326.10" stroke="#777" stroke-width="0.8"/>
<line x1="274.47" y1="312.30" x2="276.07" y2="312.30" stroke="#777" stroke-width="0.8"/>
<line x1="274.47" y1="298.50" x2="276.07" y2="298.50" stroke="#777" stroke-width="0.8"/>
<line x1="274.47" y1="284.70" x2="276.07" y2="284.70" stroke="#777" stroke-width="0.8"/>
<line x1="283.17" y1="353.70" x2="283.17" y2="355.20" stroke="#aaa" stroke-width="0.7"/>
<line x1="297.67" y1="353.70" x2="297.67" y2="355.20" stroke="#aaa" stroke-width="0.7"/>
<line x1="312.17" y1="353.70" x2="312.17" y2="355.20" stroke="#aaa" stroke-width="0.7"/>
<line x1="326.67" y1="353.70" x2="326.67" y2="355.20" stroke="#aaa" stroke-width="0.7"/>
<line x1="341.17" y1="353.70" x2="341.17" y2="355.20" stroke="#aaa" stroke-width="0.7"/>
<rect x="369.40" y="281.60" width="72.60" height="72.10" fill="#fff" stroke="#a8a8a8" stroke-width="1.5"/>
<clipPath id="c24"><rect x="369.40" y="279.60" width="72.60" height="74.10"/></clipPath>
<g clip-path="url(#c24)">
<path d="M370.31,353.70 L370.31,342.08 L371.38,340.54 L372.46,341.31 L373.69,339.00 L374.92,334.38 L376.00,326.69 L376.77,319.00 L377.54,314.38 L378.31,311.31 L379.08,315.92 L379.85,312.85 L380.62,305.15 L381.38,295.92 L382.15,288.23 L382.92,285.92 L383.69,291.31 L384.46,289.77 L385.23,288.23 L386.00,290.54 L386.77,288.23 L387.54,285.92 L388.31,295.92 L388.77,309.77 L389.38,322.08 L390.00,331.31 L390.62,337.46 L391.38,340.54 L392.15,343.62 L393.38,346.69 L394.92,349.77 L396.77,352.08 L399.08,353.15 L401.38,353.46 L401.38,353.70 Z" fill="#b7b7b7" stroke="#8f8f8f" stroke-width="0.8"/>
<path d="M369.85,352.54 L371.38,351.31 L372.92,349.77 L374.46,348.23 L376.00,347.46 L377.54,346.69 L379.08,345.15 L380.62,342.08 L381.85,337.46 L382.62,332.85 L383.23,328.23 L383.85,326.69 L384.46,325.15 L385.23,319.00 L386.00,312.85 L386.77,306.69 L387.54,300.54 L388.31,295.92 L389.08,292.85 L389.85,288.23 L390.31,285.92 L390.92,286.69 L391.38,291.31 L391.85,295.92 L392.46,305.15 L393.08,305.92 L393.69,309.77 L394.46,317.46 L395.23,325.15 L396.00,332.85 L396.77,339.00 L397.54,343.62 L398.31,346.69 L399.08,349.77 L400.15,352.08 L401.38,353.15 L402.92,352.85 L404.46,352.54 L406.00,353.46 L441.69,353.46" fill="none" stroke="#111" stroke-width="1.5" stroke-linejoin="round"/>
</g>
<line x1="369.40" y1="281.00" x2="369.40" y2="354.20" stroke="#2a2a2a" stroke-width="1.3"/>
<line x1="368.90" y1="353.70" x2="442.60" y2="353.70" stroke="#2a2a2a" stroke-width="1.3"/>
<line x1="367.80" y1="339.90" x2="369.40" y2="339.90" stroke="#777" stroke-width="0.8"/>
<line x1="367.80" y1="326.10" x2="369.40" y2="326.10" stroke="#777" stroke-width="0.8"/>
<line x1="367.80" y1="312.30" x2="369.40" y2="312.30" stroke="#777" stroke-width="0.8"/>
<line x1="367.80" y1="298.50" x2="369.40" y2="298.50" stroke="#777" stroke-width="0.8"/>
<line x1="367.80" y1="284.70" x2="369.40" y2="284.70" stroke="#777" stroke-width="0.8"/>
<line x1="376.50" y1="353.70" x2="376.50" y2="355.20" stroke="#aaa" stroke-width="0.7"/>
<line x1="391.00" y1="353.70" x2="391.00" y2="355.20" stroke="#aaa" stroke-width="0.7"/>
<line x1="405.50" y1="353.70" x2="405.50" y2="355.20" stroke="#aaa" stroke-width="0.7"/>
<line x1="420.00" y1="353.70" x2="420.00" y2="355.20" stroke="#aaa" stroke-width="0.7"/>
<line x1="434.50" y1="353.70" x2="434.50" y2="355.20" stroke="#aaa" stroke-width="0.7"/>
<rect x="445.70" y="281.60" width="72.70" height="72.10" fill="#fff" stroke="#a8a8a8" stroke-width="1.5"/>
<clipPath id="c25"><rect x="445.70" y="279.60" width="72.70" height="74.10"/></clipPath>
<g clip-path="url(#c25)">
<path d="M446.46,353.70 L446.46,348.23 L447.69,345.15 L448.92,342.08 L450.00,337.46 L451.08,332.85 L452.31,328.23 L453.54,322.08 L454.62,315.92 L455.69,311.31 L456.62,308.23 L457.38,303.62 L458.15,299.00 L458.92,294.38 L459.69,291.31 L460.46,288.23 L461.23,286.69 L462.00,285.92 L462.77,288.23 L463.38,297.46 L464.00,309.77 L464.62,322.08 L465.23,331.31 L465.85,339.00 L466.46,343.62 L467.38,348.23 L468.46,351.31 L470.00,352.85 L472.31,353.46 L472.31,353.70 Z" fill="#b7b7b7" stroke="#8f8f8f" stroke-width="0.8"/>
<path d="M445.85,351.31 L446.92,349.00 L448.00,346.69 L449.23,344.38 L450.46,341.31 L451.54,337.46 L452.77,332.85 L453.85,326.69 L454.92,320.54 L455.85,315.92 L456.92,312.85 L457.85,309.77 L458.62,306.69 L459.38,305.15 L460.00,299.00 L460.77,292.85 L461.54,288.23 L462.31,285.92 L463.08,287.46 L463.85,291.31 L464.62,299.00 L465.38,306.69 L466.15,314.38 L466.92,322.08 L467.69,329.77 L468.46,337.46 L469.23,343.62 L470.00,346.69 L470.77,349.00 L472.31,351.31 L473.85,352.54 L476.15,353.15 L479.23,353.46 L518.15,353.46" fill="none" stroke="#111" stroke-width="1.5" stroke-linejoin="round"/>
</g>
<line x1="445.70" y1="281.00" x2="445.70" y2="354.20" stroke="#2a2a2a" stroke-width="1.3"/>
<line x1="445.20" y1="353.70" x2="519.00" y2="353.70" stroke="#2a2a2a" stroke-width="1.3"/>
<line x1="444.10" y1="339.90" x2="445.70" y2="339.90" stroke="#777" stroke-width="0.8"/>
<line x1="444.10" y1="326.10" x2="445.70" y2="326.10" stroke="#777" stroke-width="0.8"/>
<line x1="444.10" y1="312.30" x2="445.70" y2="312.30" stroke="#777" stroke-width="0.8"/>
<line x1="444.10" y1="298.50" x2="445.70" y2="298.50" stroke="#777" stroke-width="0.8"/>
<line x1="444.10" y1="284.70" x2="445.70" y2="284.70" stroke="#777" stroke-width="0.8"/>
<line x1="452.80" y1="353.70" x2="452.80" y2="355.20" stroke="#aaa" stroke-width="0.7"/>
<line x1="467.30" y1="353.70" x2="467.30" y2="355.20" stroke="#aaa" stroke-width="0.7"/>
<line x1="481.80" y1="353.70" x2="481.80" y2="355.20" stroke="#aaa" stroke-width="0.7"/>
<line x1="496.30" y1="353.70" x2="496.30" y2="355.20" stroke="#aaa" stroke-width="0.7"/>
<line x1="510.80" y1="353.70" x2="510.80" y2="355.20" stroke="#aaa" stroke-width="0.7"/>
<text x="0.00" y="394.10" font-size="19.5" text-anchor="start" font-weight="bold" font-style="normal" >D</text>
<path d="M66.3,639.7 L66.3,391.3 Q66.3,389.8 67.8,389.8 L517.1,389.8 Q518.6,389.8 518.6,391.3 L518.6,639.7" fill="none" stroke="#111" stroke-width="1.5"/>
<line x1="62.30" y1="639.70" x2="518.60" y2="639.70" stroke="#111" stroke-width="1.5"/>
<line x1="62.30" y1="598.00" x2="66.30" y2="598.00" stroke="#111" stroke-width="1.3"/>
<line x1="62.30" y1="556.30" x2="66.30" y2="556.30" stroke="#111" stroke-width="1.3"/>
<line x1="62.30" y1="514.60" x2="66.30" y2="514.60" stroke="#111" stroke-width="1.3"/>
<line x1="62.30" y1="472.90" x2="66.30" y2="472.90" stroke="#111" stroke-width="1.3"/>
<line x1="62.30" y1="431.20" x2="66.30" y2="431.20" stroke="#111" stroke-width="1.3"/>
<text x="57.20" y="644.00" font-size="11.3" text-anchor="end" font-weight="normal" font-style="normal" >0</text>
<text x="57.20" y="602.30" font-size="11.3" text-anchor="end" font-weight="normal" font-style="normal" >50</text>
<text x="57.20" y="560.60" font-size="11.3" text-anchor="end" font-weight="normal" font-style="normal" >100</text>
<text x="57.20" y="518.90" font-size="11.3" text-anchor="end" font-weight="normal" font-style="normal" >150</text>
<text x="57.20" y="477.20" font-size="11.3" text-anchor="end" font-weight="normal" font-style="normal" >200</text>
<text x="57.20" y="435.50" font-size="11.3" text-anchor="end" font-weight="normal" font-style="normal" >250</text>
<text font-size="11" text-anchor="middle" transform="translate(16.2,505.0) rotate(-90)">x-fold increase</text>
<text font-size="11" text-anchor="middle" transform="translate(28.1,505.2) rotate(-90)">MFI sample / MFI isotype control</text>
<rect x="70.20" y="410.30" width="142.90" height="4.10" fill="#111" stroke="none" stroke-width="0"/>
<text x="141.00" y="405.90" font-size="11" text-anchor="middle" font-weight="normal" font-style="normal" >spleen</text>
<rect x="219.10" y="410.30" width="142.10" height="4.10" fill="#111" stroke="none" stroke-width="0"/>
<text x="291.00" y="405.90" font-size="11" text-anchor="middle" font-weight="normal" font-style="normal" >thymus</text>
<rect x="371.50" y="410.30" width="142.70" height="4.10" fill="#111" stroke="none" stroke-width="0"/>
<text x="444.00" y="405.90" font-size="11" text-anchor="middle" font-weight="normal" font-style="normal" >blood</text>
<line x1="78.70" y1="622.80" x2="78.70" y2="621.50" stroke="#111" stroke-width="1.4"/>
<line x1="74.50" y1="621.50" x2="82.90" y2="621.50" stroke="#111" stroke-width="1.4"/>
<rect x="69.50" y="622.80" width="18.40" height="16.90" fill="#111" stroke="none" stroke-width="0"/>
<line x1="103.81" y1="605.70" x2="103.81" y2="597.40" stroke="#111" stroke-width="1.4"/>
<line x1="99.61" y1="597.40" x2="108.01" y2="597.40" stroke="#111" stroke-width="1.4"/>
<rect x="95.36" y="605.85" width="16.90" height="33.85" fill="#fff" stroke="#111" stroke-width="1.5"/>
<line x1="128.91" y1="602.50" x2="128.91" y2="597.40" stroke="#111" stroke-width="1.4"/>
<line x1="124.71" y1="597.40" x2="133.11" y2="597.40" stroke="#111" stroke-width="1.4"/>
<rect x="119.71" y="602.50" width="18.40" height="37.20" fill="#111" stroke="none" stroke-width="0"/>
<line x1="154.02" y1="504.80" x2="154.02" y2="441.60" stroke="#111" stroke-width="1.4"/>
<line x1="149.82" y1="441.60" x2="158.22" y2="441.60" stroke="#111" stroke-width="1.4"/>
<rect x="145.57" y="504.95" width="16.90" height="134.75" fill="#fff" stroke="#111" stroke-width="1.5"/>
<rect x="169.93" y="636.10" width="18.40" height="3.60" fill="#111" stroke="none" stroke-width="0"/>
<rect x="195.78" y="635.95" width="16.90" height="3.75" fill="#fff" stroke="#111" stroke-width="1.5"/>
<line x1="229.34" y1="628.10" x2="229.34" y2="626.40" stroke="#111" stroke-width="1.4"/>
<line x1="225.14" y1="626.40" x2="233.54" y2="626.40" stroke="#111" stroke-width="1.4"/>
<rect x="220.14" y="628.10" width="18.40" height="11.60" fill="#111" stroke="none" stroke-width="0"/>
<line x1="254.45" y1="604.40" x2="254.45" y2="591.20" stroke="#111" stroke-width="1.4"/>
<line x1="250.25" y1="591.20" x2="258.65" y2="591.20" stroke="#111" stroke-width="1.4"/>
<rect x="246.00" y="604.55" width="16.90" height="35.15" fill="#fff" stroke="#111" stroke-width="1.5"/>
<line x1="279.56" y1="605.50" x2="279.56" y2="598.40" stroke="#111" stroke-width="1.4"/>
<line x1="275.36" y1="598.40" x2="283.76" y2="598.40" stroke="#111" stroke-width="1.4"/>
<rect x="270.36" y="605.50" width="18.40" height="34.20" fill="#111" stroke="none" stroke-width="0"/>
<line x1="304.66" y1="504.40" x2="304.66" y2="441.50" stroke="#111" stroke-width="1.4"/>
<line x1="300.46" y1="441.50" x2="308.86" y2="441.50" stroke="#111" stroke-width="1.4"/>
<rect x="296.21" y="504.55" width="16.90" height="135.15" fill="#fff" stroke="#111" stroke-width="1.5"/>
<rect x="320.57" y="637.20" width="18.40" height="2.50" fill="#111" stroke="none" stroke-width="0"/>
<rect x="346.43" y="636.75" width="16.90" height="2.95" fill="#fff" stroke="#111" stroke-width="1.5"/>
<line x1="379.98" y1="633.80" x2="379.98" y2="633.00" stroke="#111" stroke-width="1.4"/>
<line x1="375.78" y1="633.00" x2="384.18" y2="633.00" stroke="#111" stroke-width="1.4"/>
<rect x="370.78" y="633.80" width="18.40" height="5.90" fill="#111" stroke="none" stroke-width="0"/>
<line x1="405.09" y1="634.50" x2="405.09" y2="633.50" stroke="#111" stroke-width="1.4"/>
<line x1="400.89" y1="633.50" x2="409.29" y2="633.50" stroke="#111" stroke-width="1.4"/>
<rect x="396.64" y="634.65" width="16.90" height="5.05" fill="#fff" stroke="#111" stroke-width="1.5"/>
<line x1="430.20" y1="594.80" x2="430.20" y2="576.60" stroke="#111" stroke-width="1.4"/>
<line x1="426.00" y1="576.60" x2="434.40" y2="576.60" stroke="#111" stroke-width="1.4"/>
<rect x="421.00" y="594.80" width="18.40" height="44.90" fill="#111" stroke="none" stroke-width="0"/>
<line x1="455.31" y1="607.10" x2="455.31" y2="591.90" stroke="#111" stroke-width="1.4"/>
<line x1="451.11" y1="591.90" x2="459.50" y2="591.90" stroke="#111" stroke-width="1.4"/>
<rect x="446.86" y="607.25" width="16.90" height="32.45" fill="#fff" stroke="#111" stroke-width="1.5"/>
<rect x="471.21" y="635.00" width="18.40" height="4.70" fill="#111" stroke="none" stroke-width="0"/>
<rect x="497.07" y="638.45" width="16.90" height="1.25" fill="#fff" stroke="#111" stroke-width="1.5"/>
<line x1="69.70" y1="574.30" x2="112.80" y2="574.30" stroke="#111" stroke-width="1.5"/>
<text x="92.40" y="568.80" font-size="11.3" text-anchor="middle"><tspan font-style="italic">P</tspan> = .02</text>
<line x1="119.20" y1="433.80" x2="163.10" y2="433.80" stroke="#111" stroke-width="1.5"/>
<text x="142.25" y="428.50" font-size="11.3" text-anchor="middle"><tspan font-style="italic">P</tspan> = .03</text>
<line x1="169.80" y1="619.00" x2="213.90" y2="619.00" stroke="#111" stroke-width="1.5"/>
<text x="191.30" y="613.80" font-size="11.3" text-anchor="middle" font-weight="normal" font-style="normal" >ns</text>
<line x1="220.10" y1="573.10" x2="263.80" y2="573.10" stroke="#111" stroke-width="1.5"/>
<text x="240.70" y="567.80" font-size="11.3" text-anchor="middle"><tspan font-style="italic">P</tspan> = .03</text>
<line x1="270.10" y1="433.70" x2="313.90" y2="433.70" stroke="#111" stroke-width="1.5"/>
<text x="290.55" y="428.30" font-size="11.3" text-anchor="middle"><tspan font-style="italic">P</tspan> = .03</text>
<line x1="320.80" y1="619.00" x2="364.20" y2="619.00" stroke="#111" stroke-width="1.5"/>
<text x="344.35" y="613.80" font-size="11.3" text-anchor="middle" font-weight="normal" font-style="normal" >ns</text>
<line x1="370.80" y1="619.00" x2="414.50" y2="619.00" stroke="#111" stroke-width="1.5"/>
<text x="393.85" y="613.80" font-size="11.3" text-anchor="middle" font-weight="normal" font-style="normal" >ns</text>
<line x1="420.80" y1="569.60" x2="464.70" y2="569.60" stroke="#111" stroke-width="1.5"/>
<text x="443.45" y="564.30" font-size="11.3" text-anchor="middle" font-weight="normal" font-style="normal" >ns</text>
<line x1="471.60" y1="627.75" x2="514.90" y2="627.75" stroke="#111" stroke-width="1.5"/>
<text x="492.60" y="622.50" font-size="11.3" text-anchor="middle" font-weight="normal" font-style="normal" >ns</text>
<rect x="442.10" y="475.00" width="19.00" height="19.10" fill="#111" stroke="none" stroke-width="0"/>
<rect x="442.85" y="502.45" width="17.50" height="17.50" fill="#fff" stroke="#111" stroke-width="1.5"/>
<text x="464.20" y="488.00" font-size="11" text-anchor="start" font-weight="normal" font-style="normal" >CML</text>
<text x="464.20" y="514.80" font-size="11" text-anchor="start" font-weight="normal" font-style="normal" >C57BL/6</text>
<text x="91.25" y="654.20" font-size="11" text-anchor="middle" font-weight="normal" font-style="normal" >MHC II</text>
<text x="141.47" y="654.20" font-size="11" text-anchor="middle" font-weight="normal" font-style="normal" >CD86</text>
<text x="191.68" y="654.20" font-size="11" text-anchor="middle" font-weight="normal" font-style="normal" >CD80</text>
<text x="241.90" y="654.20" font-size="11" text-anchor="middle" font-weight="normal" font-style="normal" >MHC II</text>
<text x="292.11" y="654.20" font-size="11" text-anchor="middle" font-weight="normal" font-style="normal" >CD86</text>
<text x="342.32" y="654.20" font-size="11" text-anchor="middle" font-weight="normal" font-style="normal" >CD80</text>
<text x="392.54" y="654.20" font-size="11" text-anchor="middle" font-weight="normal" font-style="normal" >MHC II</text>
<text x="442.75" y="654.20" font-size="11" text-anchor="middle" font-weight="normal" font-style="normal" >CD86</text>
<text x="492.97" y="654.20" font-size="11" text-anchor="middle" font-weight="normal" font-style="normal" >CD80</text>
</svg></body></html>
